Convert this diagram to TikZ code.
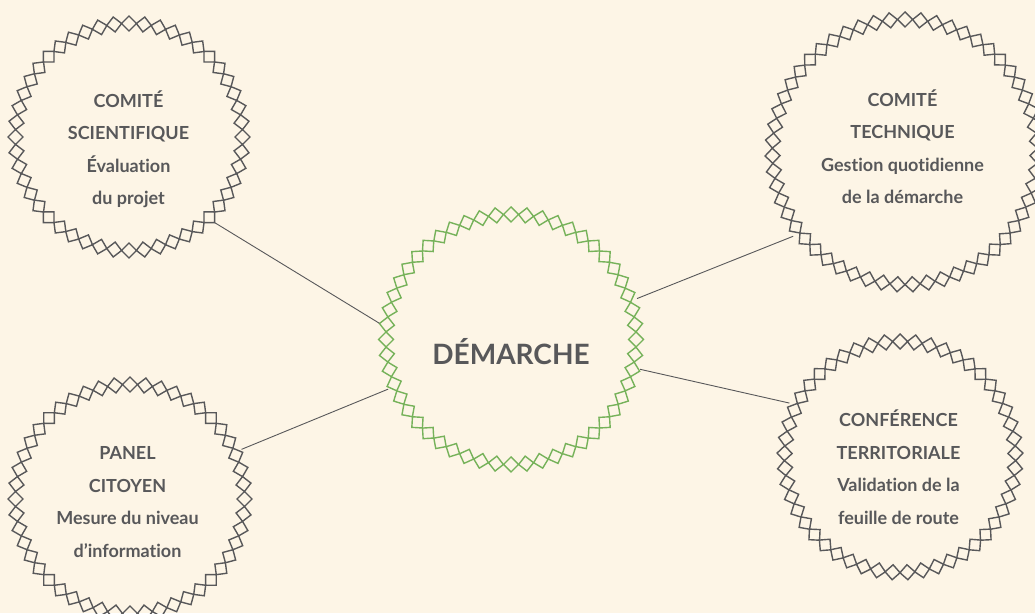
\documentclass[tikz,border=0pt]{standalone}
\usepackage{fontspec}
\setmainfont[Ligatures=NoCommon]{Lato}
\usepackage{tikz}
\definecolor{paper}{HTML}{FDF5E6}
\definecolor{ink}{HTML}{58585A}
\definecolor{leaf}{HTML}{76B25A}
\newcommand{\diamondring}[4]{%
  \pgfmathsetmacro{\rin}{#2-15}
  \pgfmathsetmacro{\rmid}{#2-7.5}
  \pgfmathsetmacro{\rstep}{360/#3}
  \begin{scope}[shift={(#1.center)}]
  \foreach \n in {1,...,#3}
  {
    \draw[draw=#4, line width=1.4pt, rotate=90+\n*\rstep]
      (\rin,0)--(\rmid,7.5)--(#2,0)--(\rmid,-7.5)--cycle;
  }
  \end{scope}
}

\begin{document}
\begin{tikzpicture}[x=1pt, y=1pt,
    hub/.style={circle, minimum size=#1, inner sep=0pt, outer sep=0pt},
    ttl/.style={align=center, anchor=base, text=ink, font=\bfseries\fontsize{18}{32.5}\selectfont},
    link/.style={draw=ink, line width=0.9pt}]
\fill[paper](0,0) rectangle (1035,613);
\useasboundingbox (0,0) rectangle (1035,613);

\node[hub=242pt] (sci) at (129,476) {};
\node[hub=280pt] (tech) at (905,461) {};
\node[hub=244pt] (panel) at (130,114) {};
\node[hub=246pt] (conf) at (900,156) {};
\node[hub=265pt] (dem) at (511,273.5) {};

\diamondring{sci}{121}{48}{ink}
\diamondring{tech}{140}{55}{ink}
\diamondring{panel}{122}{48}{ink}
\diamondring{conf}{123}{49}{ink}
\diamondring{dem}{132.5}{52}{leaf}

\draw[link](sci.-45)--(dem.173);
\draw[link](panel.24)--(dem.202);
\draw[link](tech.217)--(dem.18);
\draw[link](conf.154)--(dem.-13);

% base = last line
\node[ttl] (scitxt) at ([xshift=-0.5pt, yshift=-68pt]sci.center) {COMITÉ\\SCIENTIFIQUE\\Évaluation\\du projet};
\node[ttl] (techtxt) at ([xshift=-2.5pt, yshift=-52pt]tech.center) {COMITÉ\\TECHNIQUE\\Gestion quotidienne\\de la démarche};
\node[ttl] (paneltxt) at ([xshift=-2.5pt, yshift=-58pt]panel.center) {PANEL\\CITOYEN\\Mesure du niveau\\d’information};
\node[ttl] (conftxt) at ([xshift=-1.5pt, yshift=-67pt]conf.center) {CONFÉRENCE\\TERRITORIALE\\Validation de la\\feuille de route};
\node[ttl, font=\bfseries\fontsize{28}{32}\selectfont] (demtxt) at ([yshift=-25.5pt]dem.center) {DÉMARCHE};

\end{tikzpicture}
\end{document}
